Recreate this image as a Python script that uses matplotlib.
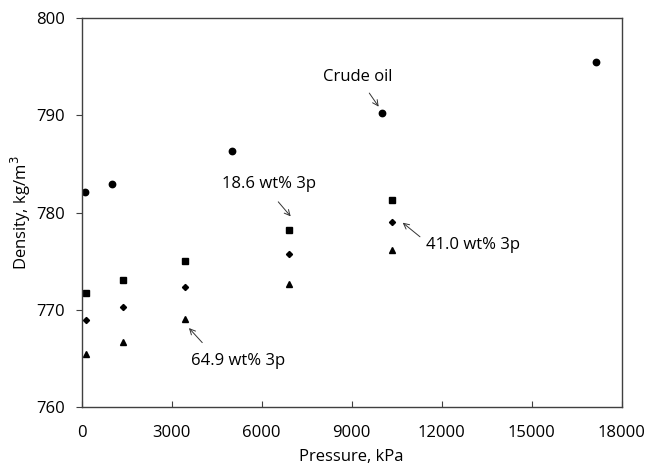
import matplotlib
matplotlib.use("Agg")
import matplotlib.pyplot as plt

plt.rcParams['font.family'] = ['Open Sans', 'DejaVu Sans']

# Data
crude_p = [100, 1000, 5000, 10000, 17150]
crude_d = [782.1, 782.9, 786.3, 790.2, 795.5]

p_3p = [130, 1380, 3450, 6895, 10342]
d_186 = [771.7, 773.0, 775.0, 778.2, 781.3]
d_410 = [768.9, 770.3, 772.3, 775.7, 779.05]
d_649 = [765.4, 766.7, 769.0, 772.6, 776.1]

fig = plt.figure(figsize=(6.48, 4.67), dpi=100)
ax = fig.add_axes([0.126, 0.1291, 0.8334, 0.8317])

ax.plot(crude_p, crude_d, 'o', color='black', markersize=4.6, linestyle='none')
ax.plot(p_3p, d_186, 's', color='black', markersize=4.4, linestyle='none')
ax.plot(p_3p, d_410, 'D', color='black', markersize=3.1, linestyle='none')
ax.plot(p_3p, d_649, '^', color='black', markersize=4.8, linestyle='none')

ax.set_xlim(0, 18000)
ax.set_ylim(760, 800)
ax.set_xticks(range(0, 18001, 3000))
ax.set_yticks(range(760, 801, 10))

spine_c = '#404040'
for s in ax.spines.values():
    s.set_color(spine_c)
    s.set_linewidth(1.0)
fs = 12
ax.tick_params(axis='x', direction='in', length=4, color=spine_c, labelsize=fs, pad=13)
ax.tick_params(axis='y', direction='out', length=4, color=spine_c, labelsize=fs, pad=8)

ax.set_xlabel('Pressure, kPa', fontsize=fs, labelpad=6)
ax.set_ylabel('Density, kg/m$^3$', fontsize=fs, labelpad=2)

arrow = dict(arrowstyle='->', color='#333333', lw=0.7, shrinkA=0, shrinkB=0)
ax.text(9200, 794.0, 'Crude oil', ha='center', va='center', fontsize=fs)
ax.annotate('', xy=(9900, 790.9), xytext=(9587, 792.3), arrowprops=arrow)

ax.text(6233, 782.9, '18.6 wt% 3p', ha='center', va='center', fontsize=fs)
ax.annotate('', xy=(6967, 779.6), xytext=(6553, 781.1), arrowprops=arrow)

ax.text(13043, 776.7, '41.0 wt% 3p', ha='center', va='center', fontsize=fs)
ax.annotate('', xy=(10700, 778.95), xytext=(11277, 777.5), arrowprops=arrow)

ax.text(5220, 764.7, '64.9 wt% 3p', ha='center', va='center', fontsize=fs)
ax.annotate('', xy=(3577, 768.1), xytext=(4020, 766.6), arrowprops=arrow)

fig.savefig('out.png', dpi=100)
